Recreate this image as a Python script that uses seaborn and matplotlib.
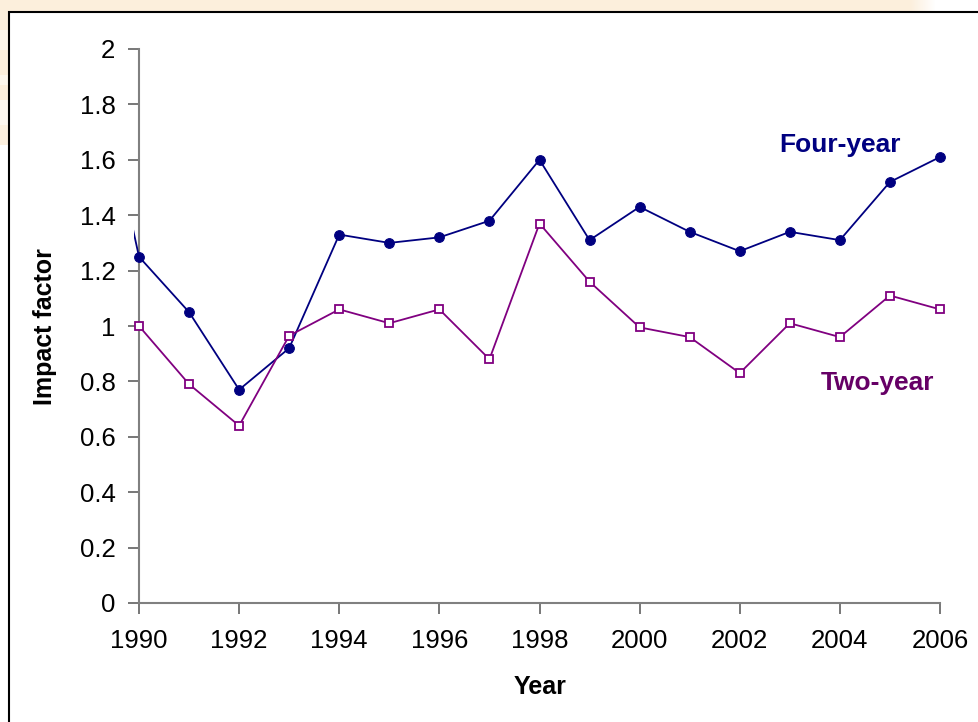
import numpy as np
import pandas as pd
import matplotlib
matplotlib.use("Agg")
import matplotlib.pyplot as plt
from matplotlib.patches import Rectangle
from matplotlib.ticker import FuncFormatter
import seaborn as sns

# Journal impact factor by year
years = [1990, 1991, 1992, 1993, 1994, 1995, 1996, 1997, 1998,
         1999, 2000, 2001, 2002, 2003, 2004, 2005, 2006]
four_year = [1.25, 1.05, 0.77, 0.92, 1.33, 1.30, 1.32, 1.38, 1.60,
             1.31, 1.43, 1.34, 1.27, 1.34, 1.31, 1.52, 1.61]
two_year = [1.00, 0.79, 0.64, 0.965, 1.06, 1.01, 1.06, 0.88, 1.37,
            1.16, 0.995, 0.96, 0.83, 1.01, 0.96, 1.11, 1.06]
# preceding year of the four-year series, only its tail enters the plot area
four_year_prev = (1989, 2.08)

series_labels = ["Four-year", "Two-year"]
y_ticks = [0, 0.2, 0.4, 0.6, 0.8, 1, 1.2, 1.4, 1.6, 1.8, 2]
x_ticks = list(range(1990, 2007, 2))

NAVY = "#000080"
PURPLE = "#800080"
PURPLE_TEXT = "#660066"

sns.set_theme(style="white")
plt.rcParams["font.family"] = ["Liberation Sans", "DejaVu Sans"]

W, H, DPI = 979, 722, 100
fig = plt.figure(figsize=(W / DPI, H / DPI), dpi=DPI)
fig.patch.set_facecolor("white")

# slide background: warm strip along the top and banded strip at the left
bg = np.ones((H, W, 3))
peach = np.array([252, 239, 220]) / 255.0
xs = np.arange(W)
fade = np.clip((935 - xs) / 25.0, 0, 1)
for r in range(0, 12):
    bg[r] = 1 - (1 - peach) * fade[:, None]
bands = [(0, 30, 1.0), (30, 50, 0.55), (50, 75, 1.0), (75, 85, 0.5),
         (85, 100, 1.0), (100, 125, 0.45), (125, 145, 0.9)]
for y0, y1, k in bands:
    bg[y0:y1, :9] = 1 - (1 - peach) * k
fig.figimage(bg, xo=0, yo=0, origin="upper", zorder=0)

# white chart frame
fig.add_artist(Rectangle((9 / W, -0.01), 1.0, (H - 12) / H + 0.01,
                         transform=fig.transFigure, facecolor="white",
                         edgecolor="black", linewidth=1.5, zorder=1))

x_left = 1989.9
px_per_year = (940 - 139) / 16.0
ax_left_px = 139 - (1990 - x_left) * px_per_year
ax = fig.add_axes([ax_left_px / W, (H - 603) / H,
                   (940 - ax_left_px) / W, (603 - 49) / H])
ax.set_zorder(2)
ax.patch.set_alpha(0)

df = pd.DataFrame({
    "Year": years * 2,
    "Impact factor": four_year + two_year,
    "Series": [series_labels[0]] * len(years) + [series_labels[1]] * len(years),
})

sns.lineplot(x=[four_year_prev[0], years[0]], y=[four_year_prev[1], four_year[0]],
             color=NAVY, linewidth=1.3, ax=ax)
sns.lineplot(data=df[df["Series"] == "Four-year"], x="Year", y="Impact factor",
             color=NAVY, linewidth=1.3, marker="o", markersize=7,
             markeredgecolor=NAVY, markerfacecolor=NAVY, clip_on=False, ax=ax)
sns.lineplot(data=df[df["Series"] == "Two-year"], x="Year", y="Impact factor",
             color=PURPLE, linewidth=1.3, marker="s", markersize=6,
             markeredgecolor=PURPLE, markerfacecolor="white",
             markeredgewidth=1.3, clip_on=False, ax=ax)

ax.set_xlim(x_left, 2006)
ax.set_ylim(0, 2)
ax.set_xticks(x_ticks)
ax.set_yticks(y_ticks)
ax.yaxis.set_major_formatter(FuncFormatter(lambda v, p: f"{v:g}"))
ax.xaxis.set_major_formatter(FuncFormatter(lambda v, p: f"{int(v)}"))

for side in ("top", "right"):
    ax.spines[side].set_visible(False)
ax.spines["left"].set_position(("data", 1990))
for side in ("left", "bottom"):
    ax.spines[side].set_color("#808080")
    ax.spines[side].set_linewidth(1.5)
    ax.spines[side].set_zorder(1)
ax.spines["bottom"].set_bounds(1990, 2006)

ax.tick_params(axis="both", which="major", direction="out", length=8,
               width=1.2, color="#606060", labelsize=18.5, labelcolor="black",
               bottom=True, left=True)
ax.tick_params(axis="y", pad=9)
ax.tick_params(axis="x", pad=11)

ax.set_xlabel("")
ax.set_ylabel("")
fig.text(540 / W, 1 - 687 / H, "Year", ha="center", va="center",
         fontsize=18, fontweight="bold", color="black")
fig.text(45 / W, 1 - 327 / H, "Impact factor", ha="center", va="center",
         rotation=90, fontsize=18, fontweight="bold", color="black")

ax.text(2004.0, 1.655, "Four-year", ha="center", va="center", fontsize=19,
        fontweight="bold", color=NAVY)
ax.text(2004.76, 0.794, "Two-year", ha="center", va="center", fontsize=19,
        fontweight="bold", color=PURPLE_TEXT)

fig.savefig("out.png", dpi=DPI)
